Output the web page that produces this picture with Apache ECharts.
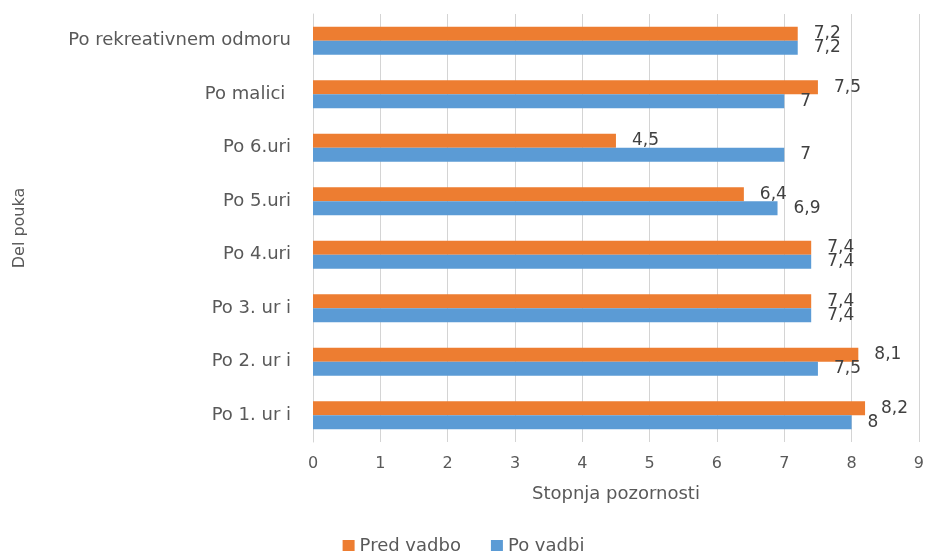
<!DOCTYPE html>
<html>
<head>
<meta charset="utf-8">
<script src="https://cdn.jsdelivr.net/npm/echarts@6/dist/echarts.min.js"></script>
<style>
  html, body { margin: 0; padding: 0; background: #fff; }
  #chart { width: 927px; height: 551px; }
</style>
</head>
<body>
<div id="chart"></div>
<script>
// podatki z grafa (od spodaj navzgor)
var categories = ['Po 1. ur i', 'Po 2. ur i', 'Po 3. ur i', 'Po 4.uri', 'Po 5.uri', 'Po 6.uri', 'Po malici ', 'Po rekreativnem odmoru'];
var predVadbo = [8.2, 8.1, 7.4, 7.4, 6.4, 4.5, 7.5, 7.2];
var poVadbi = [8, 7.5, 7.4, 7.4, 6.9, 7, 7, 7.2];
var xTicks = [0, 1, 2, 3, 4, 5, 6, 7, 8, 9];

var textColor = '#595959';
var font = 'DejaVu Sans';

function comma(p) {
  return String(p.value).replace('.', ',');
}

var chart = echarts.init(document.getElementById('chart'));

var option = {
  backgroundColor: '#ffffff',
  animation: false,
  textStyle: { fontFamily: font, color: textColor },
  grid: { left: 313, right: 2, top: 14, bottom: 109, containLabel: false },
  legend: {
    top: 532,
    left: 'center',
    itemWidth: 12,
    itemHeight: 12,
    itemGap: 30,
    icon: 'rect',
    textStyle: { fontFamily: font, fontSize: 18, color: textColor },
    data: ['Pred vadbo', 'Po vadbi']
  },
  xAxis: {
    type: 'value',
    min: xTicks[0],
    max: xTicks[xTicks.length - 1],
    interval: 1,
    name: 'Stopnja pozornosti',
    nameLocation: 'middle',
    nameGap: 43,
    nameTextStyle: { fontFamily: font, fontSize: 18, color: textColor },
    axisLine: { show: false },
    axisTick: { show: false },
    axisLabel: { fontFamily: font, fontSize: 16, color: textColor, margin: 14 },
    splitLine: { lineStyle: { color: '#d4d4d4', width: 1 } }
  },
  yAxis: {
    type: 'category',
    data: categories,
    name: 'Del pouka',
    nameLocation: 'middle',
    nameGap: 285,
    nameRotate: 90,
    nameTextStyle: { fontFamily: font, fontSize: 16, color: textColor },
    axisLine: { lineStyle: { color: '#d4d4d4' } },
    axisTick: { show: false },
    axisLabel: { fontFamily: font, fontSize: 18, color: textColor, margin: 22 }
  },
  series: [
    {
      name: 'Pred vadbo',
      type: 'bar',
      data: predVadbo,
      barWidth: 14,
      barGap: '0%',
      itemStyle: { color: '#ED7D31' },
      label: { show: true, position: 'right', distance: 16, formatter: comma,
               fontFamily: font, fontSize: 17, color: '#404040' }
    },
    {
      name: 'Po vadbi',
      type: 'bar',
      data: poVadbi,
      barWidth: 14,
      barGap: '0%',
      itemStyle: { color: '#5B9BD5' },
      label: { show: true, position: 'right', distance: 16, formatter: comma,
               fontFamily: font, fontSize: 17, color: '#404040' }
    }
  ]
};

chart.setOption(option);
</script>
</body>
</html>
